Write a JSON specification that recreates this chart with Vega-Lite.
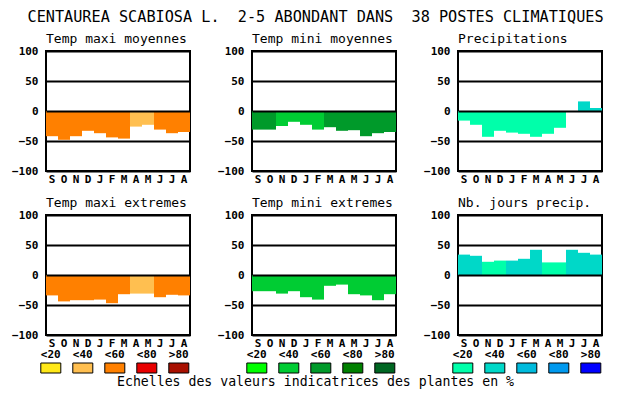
{
  "$schema": "https://vega.github.io/schema/vega-lite/v6.json",
  "background": "white",
  "padding": {"left": 10, "top": 10, "right": 4, "bottom": 2},
  "title": {"text": "CENTAUREA SCABIOSA L.\u00a0\u00a02-5 ABONDANT DANS\u00a0\u00a038 POSTES CLIMATIQUES", "fontSize": 15.2, "font": "DejaVu Sans Mono", "fontWeight": "normal", "anchor": "start", "dx": 17, "offset": 6, "color": "black"},
  "config": {
    "view": {"stroke": "black", "strokeWidth": 2},
    "axis": {"labelFont": "DejaVu Sans Mono", "labelFontWeight": "bold", "labelFontSize": 11, "labelColor": "black", "ticks": false, "domain": false, "gridColor": "black", "gridWidth": 2, "gridOpacity": 1},
    "title": {"font": "DejaVu Sans Mono", "fontWeight": "normal", "color": "black"}
  },
  "datasets": {
    "bars": [
      {"panel": "tmaxmoy", "month": "S", "value": -42, "cls": "<60"},
      {"panel": "tmaxmoy", "month": "O", "value": -48, "cls": "<60"},
      {"panel": "tmaxmoy", "month": "N", "value": -42, "cls": "<60"},
      {"panel": "tmaxmoy", "month": "D", "value": -33, "cls": "<60"},
      {"panel": "tmaxmoy", "month": "J1", "value": -37, "cls": "<60"},
      {"panel": "tmaxmoy", "month": "F", "value": -44, "cls": "<60"},
      {"panel": "tmaxmoy", "month": "M1", "value": -46, "cls": "<60"},
      {"panel": "tmaxmoy", "month": "A1", "value": -26, "cls": "<40"},
      {"panel": "tmaxmoy", "month": "M2", "value": -23, "cls": "<40"},
      {"panel": "tmaxmoy", "month": "J2", "value": -31, "cls": "<60"},
      {"panel": "tmaxmoy", "month": "J3", "value": -37, "cls": "<60"},
      {"panel": "tmaxmoy", "month": "A2", "value": -35, "cls": "<60"},
      {"panel": "tminmoy", "month": "S", "value": -31, "cls": "<60"},
      {"panel": "tminmoy", "month": "O", "value": -31, "cls": "<60"},
      {"panel": "tminmoy", "month": "N", "value": -25, "cls": "<40"},
      {"panel": "tminmoy", "month": "D", "value": -18, "cls": "<40"},
      {"panel": "tminmoy", "month": "J1", "value": -23, "cls": "<40"},
      {"panel": "tminmoy", "month": "F", "value": -31, "cls": "<40"},
      {"panel": "tminmoy", "month": "M1", "value": -27, "cls": "<60"},
      {"panel": "tminmoy", "month": "A1", "value": -33, "cls": "<60"},
      {"panel": "tminmoy", "month": "M2", "value": -32, "cls": "<60"},
      {"panel": "tminmoy", "month": "J2", "value": -42, "cls": "<60"},
      {"panel": "tminmoy", "month": "J3", "value": -37, "cls": "<60"},
      {"panel": "tminmoy", "month": "A2", "value": -35, "cls": "<60"},
      {"panel": "prec", "month": "S", "value": -16, "cls": "<20"},
      {"panel": "prec", "month": "O", "value": -23, "cls": "<20"},
      {"panel": "prec", "month": "N", "value": -43, "cls": "<20"},
      {"panel": "prec", "month": "D", "value": -33, "cls": "<20"},
      {"panel": "prec", "month": "J1", "value": -36, "cls": "<20"},
      {"panel": "prec", "month": "F", "value": -38, "cls": "<20"},
      {"panel": "prec", "month": "M1", "value": -43, "cls": "<20"},
      {"panel": "prec", "month": "A1", "value": -38, "cls": "<20"},
      {"panel": "prec", "month": "M2", "value": -28, "cls": "<20"},
      {"panel": "prec", "month": "J2", "value": 0, "cls": "<20"},
      {"panel": "prec", "month": "J3", "value": 16, "cls": "<40"},
      {"panel": "prec", "month": "A2", "value": 5, "cls": "<40"},
      {"panel": "tmaxext", "month": "S", "value": -34, "cls": "<60"},
      {"panel": "tmaxext", "month": "O", "value": -44, "cls": "<60"},
      {"panel": "tmaxext", "month": "N", "value": -42, "cls": "<60"},
      {"panel": "tmaxext", "month": "D", "value": -42, "cls": "<60"},
      {"panel": "tmaxext", "month": "J1", "value": -41, "cls": "<60"},
      {"panel": "tmaxext", "month": "F", "value": -47, "cls": "<60"},
      {"panel": "tmaxext", "month": "M1", "value": -32, "cls": "<60"},
      {"panel": "tmaxext", "month": "A1", "value": -31, "cls": "<40"},
      {"panel": "tmaxext", "month": "M2", "value": -31, "cls": "<40"},
      {"panel": "tmaxext", "month": "J2", "value": -37, "cls": "<60"},
      {"panel": "tmaxext", "month": "J3", "value": -33, "cls": "<60"},
      {"panel": "tmaxext", "month": "A2", "value": -34, "cls": "<60"},
      {"panel": "tminext", "month": "S", "value": -27, "cls": "<40"},
      {"panel": "tminext", "month": "O", "value": -27, "cls": "<40"},
      {"panel": "tminext", "month": "N", "value": -31, "cls": "<40"},
      {"panel": "tminext", "month": "D", "value": -27, "cls": "<40"},
      {"panel": "tminext", "month": "J1", "value": -37, "cls": "<40"},
      {"panel": "tminext", "month": "F", "value": -41, "cls": "<40"},
      {"panel": "tminext", "month": "M1", "value": -18, "cls": "<40"},
      {"panel": "tminext", "month": "A1", "value": -16, "cls": "<40"},
      {"panel": "tminext", "month": "M2", "value": -32, "cls": "<40"},
      {"panel": "tminext", "month": "J2", "value": -34, "cls": "<40"},
      {"panel": "tminext", "month": "J3", "value": -42, "cls": "<40"},
      {"panel": "tminext", "month": "A2", "value": -32, "cls": "<40"},
      {"panel": "njp", "month": "S", "value": 34, "cls": "<40"},
      {"panel": "njp", "month": "O", "value": 32, "cls": "<40"},
      {"panel": "njp", "month": "N", "value": 22, "cls": "<20"},
      {"panel": "njp", "month": "D", "value": 24, "cls": "<20"},
      {"panel": "njp", "month": "J1", "value": 24, "cls": "<40"},
      {"panel": "njp", "month": "F", "value": 27, "cls": "<40"},
      {"panel": "njp", "month": "M1", "value": 42, "cls": "<40"},
      {"panel": "njp", "month": "A1", "value": 21, "cls": "<20"},
      {"panel": "njp", "month": "M2", "value": 21, "cls": "<20"},
      {"panel": "njp", "month": "J2", "value": 42, "cls": "<40"},
      {"panel": "njp", "month": "J3", "value": 37, "cls": "<40"},
      {"panel": "njp", "month": "A2", "value": 34, "cls": "<40"}
    ],
    "leg": [
      {"fam": "orange", "cls": "<20"}, {"fam": "orange", "cls": "<40"}, {"fam": "orange", "cls": "<60"}, {"fam": "orange", "cls": "<80"}, {"fam": "orange", "cls": ">80"},
      {"fam": "green", "cls": "<20"}, {"fam": "green", "cls": "<40"}, {"fam": "green", "cls": "<60"}, {"fam": "green", "cls": "<80"}, {"fam": "green", "cls": ">80"},
      {"fam": "blue", "cls": "<20"}, {"fam": "blue", "cls": "<40"}, {"fam": "blue", "cls": "<60"}, {"fam": "blue", "cls": "<80"}, {"fam": "blue", "cls": ">80"}
    ],
    "note": [{"note": "Echelles des valeurs indicatrices des plantes en %"}]
  },
  "resolve": {"scale": {"color": "independent", "x": "independent", "y": "independent"}},
  "spacing": -1,
  "vconcat": [
    {
      "hconcat": [
        {
          "width": 144, "height": 120,
          "title": {"text": "Temp maxi moyennes", "anchor": "start", "frame": "group", "fontSize": 13, "offset": -13.5, "baseline": "bottom"},
          "data": {"name": "bars"},
          "transform": [{"filter": "datum.panel == 'tmaxmoy'"}],
          "mark": {"type": "bar"},
          "encoding": {
            "x": {"field": "month", "type": "nominal", "scale": {"domain": ["S","O","N","D","J1","F","M1","A1","M2","J2","J3","A2"], "paddingInner": 0, "paddingOuter": 0}, "axis": {"title": "x", "titleOpacity": 0, "titleFontSize": 10, "titlePadding": 0.6, "labelExpr": "substring(datum.label,0,1)", "labelAngle": 0, "labelPadding": 2}},
            "y": {"field": "value", "type": "quantitative", "scale": {"domain": [-100, 100], "nice": false}, "axis": {"title": null, "values": [-100,-50,0,50,100], "grid": true, "zindex": 1, "labelPadding": 8}},
            "color": {"field": "cls", "type": "nominal", "scale": {"domain": ["<20","<40","<60","<80",">80"], "range": ["#FFE818","#FFBF50","#FF8000","#E80000","#A81000"]}, "legend": null}
          }
        },
        {
          "width": 144, "height": 120,
          "title": {"text": "Temp mini moyennes", "anchor": "start", "frame": "group", "fontSize": 13, "offset": -13.5, "baseline": "bottom"},
          "data": {"name": "bars"},
          "transform": [{"filter": "datum.panel == 'tminmoy'"}],
          "mark": {"type": "bar"},
          "encoding": {
            "x": {"field": "month", "type": "nominal", "scale": {"domain": ["S","O","N","D","J1","F","M1","A1","M2","J2","J3","A2"], "paddingInner": 0, "paddingOuter": 0}, "axis": {"title": "x", "titleOpacity": 0, "titleFontSize": 10, "titlePadding": 0.6, "labelExpr": "substring(datum.label,0,1)", "labelAngle": 0, "labelPadding": 2}},
            "y": {"field": "value", "type": "quantitative", "scale": {"domain": [-100, 100], "nice": false}, "axis": {"title": null, "values": [-100,-50,0,50,100], "grid": true, "zindex": 1, "labelPadding": 8}},
            "color": {"field": "cls", "type": "nominal", "scale": {"domain": ["<20","<40","<60","<80",">80"], "range": ["#00FF00","#00CC33","#009A2A","#008000","#006622"]}, "legend": null}
          }
        },
        {
          "width": 144, "height": 120,
          "title": {"text": "Precipitations", "anchor": "start", "frame": "group", "fontSize": 13, "offset": -13.5, "baseline": "bottom"},
          "data": {"name": "bars"},
          "transform": [{"filter": "datum.panel == 'prec'"}],
          "mark": {"type": "bar"},
          "encoding": {
            "x": {"field": "month", "type": "nominal", "scale": {"domain": ["S","O","N","D","J1","F","M1","A1","M2","J2","J3","A2"], "paddingInner": 0, "paddingOuter": 0}, "axis": {"title": "x", "titleOpacity": 0, "titleFontSize": 10, "titlePadding": 0.6, "labelExpr": "substring(datum.label,0,1)", "labelAngle": 0, "labelPadding": 2}},
            "y": {"field": "value", "type": "quantitative", "scale": {"domain": [-100, 100], "nice": false}, "axis": {"title": null, "values": [-100,-50,0,50,100], "grid": true, "zindex": 1, "labelPadding": 8}},
            "color": {"field": "cls", "type": "nominal", "scale": {"domain": ["<20","<40","<60","<80",">80"], "range": ["#00FFAA","#00D8C8","#00BBDD","#0099EE","#0000FF"]}, "legend": null}
          }
        }
      ],
      "spacing": 62,
      "bounds": "flush",
      "resolve": {"scale": {"color": "independent", "x": "independent", "y": "independent"}}
    },
    {
      "hconcat": [
        {
          "width": 144, "height": 120,
          "title": {"text": "Temp maxi extremes", "anchor": "start", "frame": "group", "fontSize": 13, "offset": -13.5, "baseline": "bottom"},
          "data": {"name": "bars"},
          "transform": [{"filter": "datum.panel == 'tmaxext'"}],
          "mark": {"type": "bar"},
          "encoding": {
            "x": {"field": "month", "type": "nominal", "scale": {"domain": ["S","O","N","D","J1","F","M1","A1","M2","J2","J3","A2"], "paddingInner": 0, "paddingOuter": 0}, "axis": {"title": null, "labelExpr": "substring(datum.label,0,1)", "labelAngle": 0, "labelPadding": 2}},
            "y": {"field": "value", "type": "quantitative", "scale": {"domain": [-100, 100], "nice": false}, "axis": {"title": null, "values": [-100,-50,0,50,100], "grid": true, "zindex": 1, "labelPadding": 8}},
            "color": {"field": "cls", "type": "nominal", "scale": {"domain": ["<20","<40","<60","<80",">80"], "range": ["#FFE818","#FFBF50","#FF8000","#E80000","#A81000"]}, "legend": null}
          }
        },
        {
          "width": 144, "height": 120,
          "title": {"text": "Temp mini extremes", "anchor": "start", "frame": "group", "fontSize": 13, "offset": -13.5, "baseline": "bottom"},
          "data": {"name": "bars"},
          "transform": [{"filter": "datum.panel == 'tminext'"}],
          "mark": {"type": "bar"},
          "encoding": {
            "x": {"field": "month", "type": "nominal", "scale": {"domain": ["S","O","N","D","J1","F","M1","A1","M2","J2","J3","A2"], "paddingInner": 0, "paddingOuter": 0}, "axis": {"title": null, "labelExpr": "substring(datum.label,0,1)", "labelAngle": 0, "labelPadding": 2}},
            "y": {"field": "value", "type": "quantitative", "scale": {"domain": [-100, 100], "nice": false}, "axis": {"title": null, "values": [-100,-50,0,50,100], "grid": true, "zindex": 1, "labelPadding": 8}},
            "color": {"field": "cls", "type": "nominal", "scale": {"domain": ["<20","<40","<60","<80",">80"], "range": ["#00FF00","#00CC33","#009A2A","#008000","#006622"]}, "legend": null}
          }
        },
        {
          "width": 144, "height": 120,
          "title": {"text": "Nb. jours precip.", "anchor": "start", "frame": "group", "fontSize": 13, "offset": -13.5, "baseline": "bottom"},
          "data": {"name": "bars"},
          "transform": [{"filter": "datum.panel == 'njp'"}],
          "mark": {"type": "bar"},
          "encoding": {
            "x": {"field": "month", "type": "nominal", "scale": {"domain": ["S","O","N","D","J1","F","M1","A1","M2","J2","J3","A2"], "paddingInner": 0, "paddingOuter": 0}, "axis": {"title": null, "labelExpr": "substring(datum.label,0,1)", "labelAngle": 0, "labelPadding": 2}},
            "y": {"field": "value", "type": "quantitative", "scale": {"domain": [-100, 100], "nice": false}, "axis": {"title": null, "values": [-100,-50,0,50,100], "grid": true, "zindex": 1, "labelPadding": 8}},
            "color": {"field": "cls", "type": "nominal", "scale": {"domain": ["<20","<40","<60","<80",">80"], "range": ["#00FFAA","#00D8C8","#00BBDD","#0099EE","#0000FF"]}, "legend": null}
          }
        }
      ],
      "spacing": 62,
      "bounds": "flush",
      "resolve": {"scale": {"color": "independent", "x": "independent", "y": "independent"}}
    },
    {
      "hconcat": [
        {
          "width": 144, "height": 10,
          "view": {"stroke": null},
          "data": {"name": "leg"},
          "transform": [{"filter": "datum.fam == 'orange'"}],
          "mark": {"type": "bar", "width": 20, "stroke": "black", "strokeWidth": 1},
          "encoding": {
            "x": {"field": "cls", "type": "nominal", "scale": {"domain": ["<20","<40","<60","<80",">80"], "range": [-11.2, 148.8], "paddingInner": 0, "paddingOuter": 0}, "axis": {"orient": "top", "title": null, "labelAngle": 0, "labelPadding": 3.5, "grid": false}},
            "color": {"field": "cls", "type": "nominal", "scale": {"domain": ["<20","<40","<60","<80",">80"], "range": ["#FFE818","#FFBF50","#FF8000","#E80000","#A81000"]}, "legend": null}
          }
        },
        {
          "width": 144, "height": 10,
          "view": {"stroke": null},
          "data": {"name": "leg"},
          "transform": [{"filter": "datum.fam == 'green'"}],
          "mark": {"type": "bar", "width": 20, "stroke": "black", "strokeWidth": 1},
          "encoding": {
            "x": {"field": "cls", "type": "nominal", "scale": {"domain": ["<20","<40","<60","<80",">80"], "range": [-11.2, 148.8], "paddingInner": 0, "paddingOuter": 0}, "axis": {"orient": "top", "title": null, "labelAngle": 0, "labelPadding": 3.5, "grid": false}},
            "color": {"field": "cls", "type": "nominal", "scale": {"domain": ["<20","<40","<60","<80",">80"], "range": ["#00FF00","#00CC33","#009A2A","#008000","#006622"]}, "legend": null}
          }
        },
        {
          "width": 144, "height": 10,
          "view": {"stroke": null},
          "data": {"name": "leg"},
          "transform": [{"filter": "datum.fam == 'blue'"}],
          "mark": {"type": "bar", "width": 20, "stroke": "black", "strokeWidth": 1},
          "encoding": {
            "x": {"field": "cls", "type": "nominal", "scale": {"domain": ["<20","<40","<60","<80",">80"], "range": [-11.2, 148.8], "paddingInner": 0, "paddingOuter": 0}, "axis": {"orient": "top", "title": null, "labelAngle": 0, "labelPadding": 3.5, "grid": false}},
            "color": {"field": "cls", "type": "nominal", "scale": {"domain": ["<20","<40","<60","<80",">80"], "range": ["#00FFAA","#00D8C8","#00BBDD","#0099EE","#0000FF"]}, "legend": null}
          }
        }
      ],
      "spacing": 62,
      "bounds": "flush",
      "resolve": {"scale": {"color": "independent", "x": "independent", "y": "independent"}}
    },
    {
      "width": 539, "height": 15.5,
      "view": {"stroke": null},
      "data": {"name": "note"},
      "mark": {"type": "text", "font": "DejaVu Sans Mono", "fontSize": 13.2, "baseline": "middle", "color": "black"},
      "encoding": {"text": {"field": "note", "type": "nominal"}}
    }
  ]
}
